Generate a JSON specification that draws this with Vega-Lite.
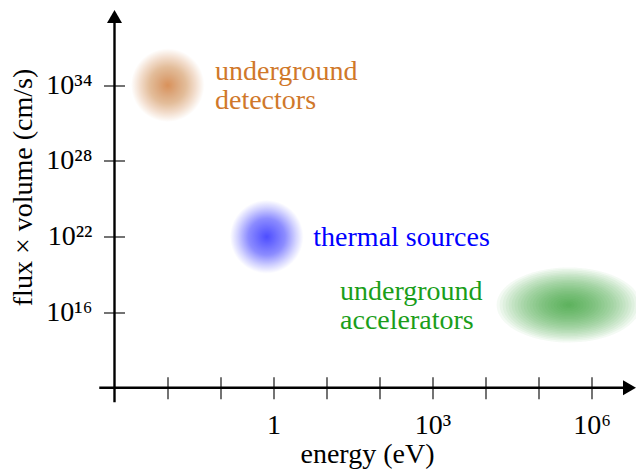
{
  "$schema": "https://vega.github.io/schema/vega-lite/v6.json",
  "width": 515,
  "height": 371.2,
  "autosize": {"type": "none"},
  "padding": {"left": 114.5, "top": 16.5, "right": 6.5, "bottom": 84.3},
  "background": "white",
  "config": {"view": {"stroke": null}, "font": "Liberation Serif"},
  "datasets": {
    "axes": [
      {"axis": "x", "x": 0.000516, "x2": 5210000, "y": 1e10, "y2": 1e10},
      {"axis": "y", "x": 0.001, "x2": 0.001, "y": 6.9e8, "y2": 2.88e39}
    ],
    "arrows": [
      {"dir": "right", "x": 5210000, "y": 1e10},
      {"dir": "up", "x": 0.001, "y": 2.88e39}
    ],
    "blobs": [
      {"source": "detectors", "x": 0.0101, "y": 1e34},
      {"source": "thermal", "x": 0.745, "y": 9.5e21},
      {"source": "accelerators", "x": 370000, "y": 3.7e16}
    ],
    "labels": [
      {"source": "detectors", "text": "underground\ndetectors", "x": 0.0787, "y": 2.63e34},
      {"source": "thermal", "text": "thermal sources", "x": 5.64, "y": 1.76e21},
      {"source": "accelerators", "text": "underground\naccelerators", "x": 18.0, "y": 9.1e16}
    ]
  },
  "encoding": {
    "x": {
      "field": "x", "type": "quantitative",
      "scale": {"type": "log", "domain": [0.001, 5210000], "nice": false},
      "axis": {
        "values": [0.01, 0.1, 1, 10, 100, 1000, 10000, 100000, 1000000],
        "domain": false, "grid": false, "offset": -11, "tickSize": 22, "tickWidth": 1.1, "tickColor": "black",
        "labelExpr": "abs(log(datum.value)/LN10) < 0.01 ? '1' : abs(log(datum.value)/LN10 - 3) < 0.01 ? '10³' : abs(log(datum.value)/LN10 - 6) < 0.01 ? '10⁶' : ''",
        "labelFont": "Liberation Serif", "labelFontSize": 28, "labelColor": "black", "labelPadding": 34.3,
        "labelBaseline": "alphabetic", "labelFlush": false, "labelOverlap": false, "labelBound": false,
        "title": "energy (eV)", "titleFont": "Liberation Serif", "titleFontSize": 28, "titleFontWeight": "normal",
        "titleColor": "black", "titleX": 252.5, "titleY": 85.3, "titleBaseline": "alphabetic", "titleAlign": "center"
      }
    },
    "y": {
      "field": "y", "type": "quantitative",
      "scale": {"type": "log", "domain": [1e10, 2.88e39], "nice": false},
      "axis": {
        "values": [1e16, 1e22, 1e28, 1e34],
        "domain": false, "grid": false, "offset": -10, "tickSize": 21, "tickWidth": 1.1, "tickColor": "black",
        "labelExpr": "round(log(datum.value)/LN10) == 16 ? '10¹⁶' : round(log(datum.value)/LN10) == 22 ? '10²²' : round(log(datum.value)/LN10) == 28 ? '10²⁸' : '10³⁴'",
        "labelFont": "Liberation Serif", "labelFontSize": 28, "labelColor": "black", "labelPadding": 11.5,
        "labelAlign": "right", "labelBaseline": "middle", "labelFlush": false, "labelOverlap": false, "labelBound": false,
        "title": "flux × volume (cm/s)", "titleFont": "Liberation Serif", "titleFontSize": 28, "titleFontWeight": "normal",
        "titleColor": "black", "titleAngle": 270, "titleX": -93.5, "titleY": 170.5, "titleBaseline": "alphabetic", "titleAlign": "center"
      }
    }
  },
  "layer": [
    {
      "data": {"name": "blobs"},
      "transform": [{"filter": "datum.source == 'detectors'"}],
      "mark": {"type": "point", "shape": "circle", "filled": true, "opacity": 1, "strokeWidth": 0, "size": 5390,
        "fill": {"gradient": "radial", "x1": 0.5, "y1": 0.5, "r1": 0, "x2": 0.5, "y2": 0.5, "r2": 0.5,
          "stops": [
            {"offset": 0, "color": "#d9915a"},
            {"offset": 0.25, "color": "#dca77c"},
            {"offset": 0.5, "color": "#e3bd9a"},
            {"offset": 0.75, "color": "#f2dccb"},
            {"offset": 1, "color": "#ffffff"}
          ]}}
    },
    {
      "data": {"name": "blobs"},
      "transform": [{"filter": "datum.source == 'thermal'"}],
      "mark": {"type": "point", "shape": "circle", "filled": true, "opacity": 1, "strokeWidth": 0, "size": 5390,
        "fill": {"gradient": "radial", "x1": 0.5, "y1": 0.5, "r1": 0, "x2": 0.5, "y2": 0.5, "r2": 0.5,
          "stops": [
            {"offset": 0, "color": "#4d4dff"},
            {"offset": 0.5, "color": "#8c8cff"},
            {"offset": 0.8, "color": "#d4d4ff"},
            {"offset": 1, "color": "#ffffff"}
          ]}}
    },
    {"data": {"name": "blobs"}, "transform": [{"filter": "datum.source == 'accelerators'"}], "mark": {"type": "point", "shape": "M-1,0C-1,-0.287,-0.552,-0.52,0,-0.52C0.552,-0.52,1,-0.287,1,0C1,0.287,0.552,0.52,0,0.52C-0.552,0.52,-1,0.287,-1,0Z", "filled": true, "fill": "#2a9a2a", "opacity": 1, "fillOpacity": 0.05, "strokeWidth": 0, "size": 20736}},
    {"data": {"name": "blobs"}, "transform": [{"filter": "datum.source == 'accelerators'"}], "mark": {"type": "point", "shape": "M-1,0C-1,-0.287,-0.552,-0.52,0,-0.52C0.552,-0.52,1,-0.287,1,0C1,0.287,0.552,0.52,0,0.52C-0.552,0.52,-1,0.287,-1,0Z", "filled": true, "fill": "#2a9a2a", "opacity": 1, "fillOpacity": 0.05, "strokeWidth": 0, "size": 19044}},
    {"data": {"name": "blobs"}, "transform": [{"filter": "datum.source == 'accelerators'"}], "mark": {"type": "point", "shape": "M-1,0C-1,-0.287,-0.552,-0.52,0,-0.52C0.552,-0.52,1,-0.287,1,0C1,0.287,0.552,0.52,0,0.52C-0.552,0.52,-1,0.287,-1,0Z", "filled": true, "fill": "#2a9a2a", "opacity": 1, "fillOpacity": 0.05, "strokeWidth": 0, "size": 17424}},
    {"data": {"name": "blobs"}, "transform": [{"filter": "datum.source == 'accelerators'"}], "mark": {"type": "point", "shape": "M-1,0C-1,-0.287,-0.552,-0.52,0,-0.52C0.552,-0.52,1,-0.287,1,0C1,0.287,0.552,0.52,0,0.52C-0.552,0.52,-1,0.287,-1,0Z", "filled": true, "fill": "#2a9a2a", "opacity": 1, "fillOpacity": 0.05, "strokeWidth": 0, "size": 15876}},
    {"data": {"name": "blobs"}, "transform": [{"filter": "datum.source == 'accelerators'"}], "mark": {"type": "point", "shape": "M-1,0C-1,-0.287,-0.552,-0.52,0,-0.52C0.552,-0.52,1,-0.287,1,0C1,0.287,0.552,0.52,0,0.52C-0.552,0.52,-1,0.287,-1,0Z", "filled": true, "fill": "#2a9a2a", "opacity": 1, "fillOpacity": 0.05, "strokeWidth": 0, "size": 14400}},
    {"data": {"name": "blobs"}, "transform": [{"filter": "datum.source == 'accelerators'"}], "mark": {"type": "point", "shape": "M-1,0C-1,-0.287,-0.552,-0.52,0,-0.52C0.552,-0.52,1,-0.287,1,0C1,0.287,0.552,0.52,0,0.52C-0.552,0.52,-1,0.287,-1,0Z", "filled": true, "fill": "#2a9a2a", "opacity": 1, "fillOpacity": 0.05, "strokeWidth": 0, "size": 12996}},
    {"data": {"name": "blobs"}, "transform": [{"filter": "datum.source == 'accelerators'"}], "mark": {"type": "point", "shape": "M-1,0C-1,-0.287,-0.552,-0.52,0,-0.52C0.552,-0.52,1,-0.287,1,0C1,0.287,0.552,0.52,0,0.52C-0.552,0.52,-1,0.287,-1,0Z", "filled": true, "fill": "#2a9a2a", "opacity": 1, "fillOpacity": 0.05, "strokeWidth": 0, "size": 11664}},
    {"data": {"name": "blobs"}, "transform": [{"filter": "datum.source == 'accelerators'"}], "mark": {"type": "point", "shape": "M-1,0C-1,-0.287,-0.552,-0.52,0,-0.52C0.552,-0.52,1,-0.287,1,0C1,0.287,0.552,0.52,0,0.52C-0.552,0.52,-1,0.287,-1,0Z", "filled": true, "fill": "#2a9a2a", "opacity": 1, "fillOpacity": 0.05, "strokeWidth": 0, "size": 10404}},
    {"data": {"name": "blobs"}, "transform": [{"filter": "datum.source == 'accelerators'"}], "mark": {"type": "point", "shape": "M-1,0C-1,-0.287,-0.552,-0.52,0,-0.52C0.552,-0.52,1,-0.287,1,0C1,0.287,0.552,0.52,0,0.52C-0.552,0.52,-1,0.287,-1,0Z", "filled": true, "fill": "#2a9a2a", "opacity": 1, "fillOpacity": 0.05, "strokeWidth": 0, "size": 9216}},
    {"data": {"name": "blobs"}, "transform": [{"filter": "datum.source == 'accelerators'"}], "mark": {"type": "point", "shape": "M-1,0C-1,-0.287,-0.552,-0.52,0,-0.52C0.552,-0.52,1,-0.287,1,0C1,0.287,0.552,0.52,0,0.52C-0.552,0.52,-1,0.287,-1,0Z", "filled": true, "fill": "#2a9a2a", "opacity": 1, "fillOpacity": 0.05, "strokeWidth": 0, "size": 8100}},
    {"data": {"name": "blobs"}, "transform": [{"filter": "datum.source == 'accelerators'"}], "mark": {"type": "point", "shape": "M-1,0C-1,-0.287,-0.552,-0.52,0,-0.52C0.552,-0.52,1,-0.287,1,0C1,0.287,0.552,0.52,0,0.52C-0.552,0.52,-1,0.287,-1,0Z", "filled": true, "fill": "#2a9a2a", "opacity": 1, "fillOpacity": 0.05, "strokeWidth": 0, "size": 7056}},
    {"data": {"name": "blobs"}, "transform": [{"filter": "datum.source == 'accelerators'"}], "mark": {"type": "point", "shape": "M-1,0C-1,-0.287,-0.552,-0.52,0,-0.52C0.552,-0.52,1,-0.287,1,0C1,0.287,0.552,0.52,0,0.52C-0.552,0.52,-1,0.287,-1,0Z", "filled": true, "fill": "#2a9a2a", "opacity": 1, "fillOpacity": 0.05, "strokeWidth": 0, "size": 6084}},
    {"data": {"name": "blobs"}, "transform": [{"filter": "datum.source == 'accelerators'"}], "mark": {"type": "point", "shape": "M-1,0C-1,-0.287,-0.552,-0.52,0,-0.52C0.552,-0.52,1,-0.287,1,0C1,0.287,0.552,0.52,0,0.52C-0.552,0.52,-1,0.287,-1,0Z", "filled": true, "fill": "#2a9a2a", "opacity": 1, "fillOpacity": 0.05, "strokeWidth": 0, "size": 5184}},
    {"data": {"name": "blobs"}, "transform": [{"filter": "datum.source == 'accelerators'"}], "mark": {"type": "point", "shape": "M-1,0C-1,-0.287,-0.552,-0.52,0,-0.52C0.552,-0.52,1,-0.287,1,0C1,0.287,0.552,0.52,0,0.52C-0.552,0.52,-1,0.287,-1,0Z", "filled": true, "fill": "#2a9a2a", "opacity": 1, "fillOpacity": 0.05, "strokeWidth": 0, "size": 4356}},
    {"data": {"name": "blobs"}, "transform": [{"filter": "datum.source == 'accelerators'"}], "mark": {"type": "point", "shape": "M-1,0C-1,-0.287,-0.552,-0.52,0,-0.52C0.552,-0.52,1,-0.287,1,0C1,0.287,0.552,0.52,0,0.52C-0.552,0.52,-1,0.287,-1,0Z", "filled": true, "fill": "#2a9a2a", "opacity": 1, "fillOpacity": 0.05, "strokeWidth": 0, "size": 3600}},
    {"data": {"name": "blobs"}, "transform": [{"filter": "datum.source == 'accelerators'"}], "mark": {"type": "point", "shape": "M-1,0C-1,-0.287,-0.552,-0.52,0,-0.52C0.552,-0.52,1,-0.287,1,0C1,0.287,0.552,0.52,0,0.52C-0.552,0.52,-1,0.287,-1,0Z", "filled": true, "fill": "#2a9a2a", "opacity": 1, "fillOpacity": 0.05, "strokeWidth": 0, "size": 2916}},
    {"data": {"name": "blobs"}, "transform": [{"filter": "datum.source == 'accelerators'"}], "mark": {"type": "point", "shape": "M-1,0C-1,-0.287,-0.552,-0.52,0,-0.52C0.552,-0.52,1,-0.287,1,0C1,0.287,0.552,0.52,0,0.52C-0.552,0.52,-1,0.287,-1,0Z", "filled": true, "fill": "#2a9a2a", "opacity": 1, "fillOpacity": 0.05, "strokeWidth": 0, "size": 2304}},
    {"data": {"name": "blobs"}, "transform": [{"filter": "datum.source == 'accelerators'"}], "mark": {"type": "point", "shape": "M-1,0C-1,-0.287,-0.552,-0.52,0,-0.52C0.552,-0.52,1,-0.287,1,0C1,0.287,0.552,0.52,0,0.52C-0.552,0.52,-1,0.287,-1,0Z", "filled": true, "fill": "#2a9a2a", "opacity": 1, "fillOpacity": 0.05, "strokeWidth": 0, "size": 1764}},
    {"data": {"name": "blobs"}, "transform": [{"filter": "datum.source == 'accelerators'"}], "mark": {"type": "point", "shape": "M-1,0C-1,-0.287,-0.552,-0.52,0,-0.52C0.552,-0.52,1,-0.287,1,0C1,0.287,0.552,0.52,0,0.52C-0.552,0.52,-1,0.287,-1,0Z", "filled": true, "fill": "#2a9a2a", "opacity": 1, "fillOpacity": 0.05, "strokeWidth": 0, "size": 1296}},
    {"data": {"name": "blobs"}, "transform": [{"filter": "datum.source == 'accelerators'"}], "mark": {"type": "point", "shape": "M-1,0C-1,-0.287,-0.552,-0.52,0,-0.52C0.552,-0.52,1,-0.287,1,0C1,0.287,0.552,0.52,0,0.52C-0.552,0.52,-1,0.287,-1,0Z", "filled": true, "fill": "#2a9a2a", "opacity": 1, "fillOpacity": 0.05, "strokeWidth": 0, "size": 900}},
    {"data": {"name": "blobs"}, "transform": [{"filter": "datum.source == 'accelerators'"}], "mark": {"type": "point", "shape": "M-1,0C-1,-0.287,-0.552,-0.52,0,-0.52C0.552,-0.52,1,-0.287,1,0C1,0.287,0.552,0.52,0,0.52C-0.552,0.52,-1,0.287,-1,0Z", "filled": true, "fill": "#2a9a2a", "opacity": 1, "fillOpacity": 0.05, "strokeWidth": 0, "size": 576}},
    {"data": {"name": "blobs"}, "transform": [{"filter": "datum.source == 'accelerators'"}], "mark": {"type": "point", "shape": "M-1,0C-1,-0.287,-0.552,-0.52,0,-0.52C0.552,-0.52,1,-0.287,1,0C1,0.287,0.552,0.52,0,0.52C-0.552,0.52,-1,0.287,-1,0Z", "filled": true, "fill": "#2a9a2a", "opacity": 1, "fillOpacity": 0.05, "strokeWidth": 0, "size": 324}},
    {"data": {"name": "blobs"}, "transform": [{"filter": "datum.source == 'accelerators'"}], "mark": {"type": "point", "shape": "M-1,0C-1,-0.287,-0.552,-0.52,0,-0.52C0.552,-0.52,1,-0.287,1,0C1,0.287,0.552,0.52,0,0.52C-0.552,0.52,-1,0.287,-1,0Z", "filled": true, "fill": "#2a9a2a", "opacity": 1, "fillOpacity": 0.05, "strokeWidth": 0, "size": 144}},
    {"data": {"name": "blobs"}, "transform": [{"filter": "datum.source == 'accelerators'"}], "mark": {"type": "point", "shape": "M-1,0C-1,-0.287,-0.552,-0.52,0,-0.52C0.552,-0.52,1,-0.287,1,0C1,0.287,0.552,0.52,0,0.52C-0.552,0.52,-1,0.287,-1,0Z", "filled": true, "fill": "#2a9a2a", "opacity": 1, "fillOpacity": 0.05, "strokeWidth": 0, "size": 36}},
    {
      "data": {"name": "axes"},
      "mark": {"type": "rule", "color": "black", "strokeWidth": 2.4, "strokeCap": "butt"},
      "encoding": {"x2": {"field": "x2"}, "y2": {"field": "y2"}}
    },
    {
      "data": {"name": "arrows"},
      "mark": {"type": "point", "filled": true, "opacity": 1, "color": "black", "strokeWidth": 0, "size": 225},
      "encoding": {"shape": {"field": "dir", "type": "nominal", "scale": {"domain": ["right", "up"], "range": ["triangle-right", "triangle-up"]}, "legend": null}}
    },
    {
      "data": {"name": "labels"},
      "mark": {"type": "text", "align": "left", "baseline": "alphabetic", "font": "Liberation Serif", "fontSize": 28, "lineBreak": "\n", "lineHeight": 29},
      "encoding": {
        "text": {"field": "text"},
        "color": {"field": "source", "type": "nominal", "scale": {"domain": ["detectors", "thermal", "accelerators"], "range": ["#d0782a", "#0000ff", "#1a9e1a"]}, "legend": null}
      }
    }
  ]
}
